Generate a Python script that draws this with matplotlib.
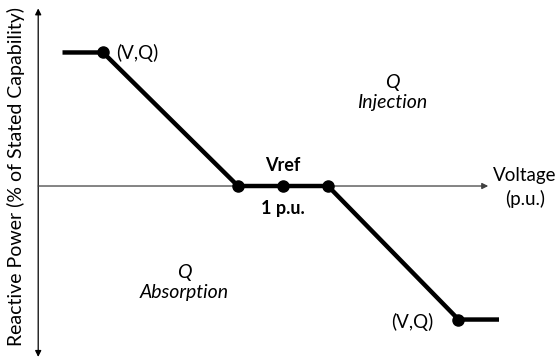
import numpy as np
import matplotlib.pyplot as plt

plt.rcParams['font.family'] = ['Lato', 'DejaVu Sans']

# volt-var curve points (voltage in p.u., reactive power in % of capability)
voltage = [0.951, 0.960, 0.990, 1.000, 1.010, 1.039, 1.048]
reactive = [100, 100, 0, 0, 0, -100, -100]
marker_idx = [1, 2, 3, 4, 5]

fig = plt.figure(figsize=(5.57, 3.62), dpi=100)
ax = fig.add_axes([0, 0, 1, 1])
ax.set_xlim(0.93711, 1.06089)
ax.set_ylim(-131.8, 139.3)
ax.axis('off')

# axes drawn as arrows
x0 = 0.9456
ax.annotate('', xy=(x0, 133), xytext=(x0, -128),
            arrowprops=dict(arrowstyle='<|-|>', color='black', lw=0.9,
                            mutation_scale=9, shrinkA=0, shrinkB=0))
ax.annotate('', xy=(1.0456, 0), xytext=(x0, 0),
            arrowprops=dict(arrowstyle='-|>', color='#404040', lw=0.9,
                            mutation_scale=9, shrinkA=0, shrinkB=0))

ax.plot(voltage, reactive, color='black', lw=3.2, solid_capstyle='butt', zorder=3)
ax.plot([voltage[i] for i in marker_idx], [reactive[i] for i in marker_idx],
        'o', color='black', ms=8, zorder=4)

fs = 13.5
ax.text(0.9630, 100, '(V,Q)', fontsize=fs, va='center', ha='left')
ax.text(1.0287, -102, '(V,Q)', fontsize=fs, va='center', ha='center')
ax.text(1.0, 15, 'Vref', fontsize=13, fontweight='bold', ha='center', va='center')
ax.text(1.0, -17, '1 p.u.', fontsize=13, fontweight='bold', ha='center', va='center')
ax.text(1.0538, -1, 'Voltage\n(p.u.)', fontsize=fs, ha='center', va='center', linespacing=1.35)
ax.text(1.0242, 70, 'Q\nInjection', fontsize=14, style='italic', ha='center', va='center',
        linespacing=1.2)
ax.text(0.9780, -72, 'Q\nAbsorption', fontsize=14, style='italic', ha='center', va='center',
        linespacing=1.2)
ax.text(0.9407, 7, 'Reactive Power (% of Stated Capability)', fontsize=14,
        rotation=90, ha='center', va='center')

fig.savefig('out.png', dpi=100)
